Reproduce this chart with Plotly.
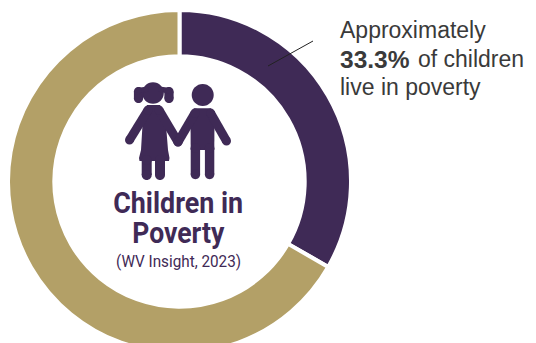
import plotly.graph_objects as go

# Share of children living in poverty
labels = ["In poverty", "Not in poverty"]
values = [33.3, 66.7]
colors = ["#3f2a56", "#b3a067"]

PURPLE = "#3f2a56"
INK = "#3a3a3a"
WIDTH, HEIGHT = 536, 356
CX, CY, R = 179.5, 181.5, 171.5


def circle(cx, cy, r):
    k = 0.5523 * r
    return (f"M{cx - r},{cy} C{cx - r},{cy - k} {cx - k},{cy - r} {cx},{cy - r} "
            f"C{cx + k},{cy - r} {cx + r},{cy - k} {cx + r},{cy} "
            f"C{cx + r},{cy + k} {cx + k},{cy + r} {cx},{cy + r} "
            f"C{cx - k},{cy + r} {cx - r},{cy + k} {cx - r},{cy} Z")


def capsule(x0, y0, x1, y1, w):
    # A rounded bar: one rectangle and two end circles, kept as separate paths
    dx, dy = x1 - x0, y1 - y0
    n = (dx * dx + dy * dy) ** 0.5
    ox, oy = -dy / n * w / 2, dx / n * w / 2
    return [f"M{x0 + ox},{y0 + oy} L{x1 + ox},{y1 + oy} "
            f"L{x1 - ox},{y1 - oy} L{x0 - ox},{y0 - oy} Z",
            circle(x0, y0, w / 2), circle(x1, y1, w / 2)]


# Pictogram of two children holding hands
icon_paths = [
    # girl
    circle(153, 93, 10.8),
    *capsule(138.5, 91.5, 138.5, 98.5, 9.2),
    *capsule(169, 91.5, 169, 98.5, 9.2),
    *capsule(139, 90.5, 146, 89.5, 5.5),
    *capsule(168.5, 90.5, 161, 89.5, 5.5),
    "M147,105 L160,105 L166,125 L168,150 L169.5,158 L169,161 L139.5,161 L139,158 "
    "L141,150 L142.5,125 Z",
    *capsule(148, 110, 129.5, 140, 9),
    *capsule(159, 110, 178, 142, 9),
    *capsule(146.7, 160, 146.7, 175, 10),
    *capsule(160, 160, 160, 175, 10),
    # boy
    circle(202.7, 95, 11),
    "M194,108.3 L211,108.3 L214.5,115 L214.3,150 L190.7,150 L190.5,115 Z",
    *capsule(195, 113, 178, 142, 9),
    *capsule(210.5, 113, 226.5, 141, 9),
    *capsule(195.4, 148, 195.4, 174.5, 9.4),
    *capsule(209.6, 148, 209.6, 174.5, 9.4),
]

fig = go.Figure()
fig.add_trace(go.Pie(
    labels=labels, values=values, hole=0.73, sort=False, direction="clockwise",
    rotation=0, textinfo="none", hoverinfo="label+percent",
    marker=dict(colors=colors, line=dict(color="white", width=4)),
    domain=dict(x=[(CX - R) / WIDTH, (CX + R) / WIDTH],
                y=[1 - (CY + R) / HEIGHT, 1 - (CY - R) / HEIGHT]),
    showlegend=False,
))

shapes = [dict(type="path", path=p, fillcolor=PURPLE, line=dict(width=0),
               xref="x", yref="y", layer="above") for p in icon_paths]
shapes.append(dict(type="line", x0=268, y0=66, x1=313, y1=41, xref="x", yref="y",
                   line=dict(color="#222222", width=1)))

narrow = "Roboto"
body = "Liberation Sans"


def note(x, y, text, size, color, family, anchor="left", weight=400):
    return dict(x=x, y=y, xref="x", yref="y", text=text, showarrow=False,
                xanchor=anchor, yanchor="middle",
                font=dict(size=size, color=color, family=family, weight=weight))


annotations = [
    note(178, 203, "Children in", 29, PURPLE, narrow, "center", 700),
    note(178, 233, "Poverty", 29, PURPLE, narrow, "center", 700),
    note(178, 261, "(WV Insight, 2023)", 17, PURPLE, narrow, "center"),
    note(338, 30, "Approximately", 23, INK, body),
    note(338, 59, "33.3%", 24.5, INK, body, weight=700),
    note(416, 59, "of children", 23, INK, body),
    note(338, 87, "live in poverty", 23, INK, body),
]

fig.update_layout(
    width=WIDTH, height=HEIGHT, margin=dict(l=0, r=0, t=0, b=0),
    paper_bgcolor="white", plot_bgcolor="rgba(0,0,0,0)",
    xaxis=dict(range=[0, WIDTH], visible=False, fixedrange=True),
    yaxis=dict(range=[HEIGHT, 0], visible=False, fixedrange=True),
    shapes=shapes, annotations=annotations,
)

# Condense the centre headings, which have no installed narrow face to use
condense = """
document.documentElement.style.overflow='hidden';
document.body.style.overflow='hidden';
var widths = {'Children in': 130, 'Poverty': 92, '(WV Insight, 2023)': 125};
document.querySelectorAll('.annotation-text').forEach(function (t) {
  var w = widths[t.textContent];
  if (w) {
    t.setAttribute('textLength', w);
    t.setAttribute('lengthAdjust', 'spacingAndGlyphs');
  }
});
"""

fig.write_html("out.html", config={"displayModeBar": False}, post_script=condense)
